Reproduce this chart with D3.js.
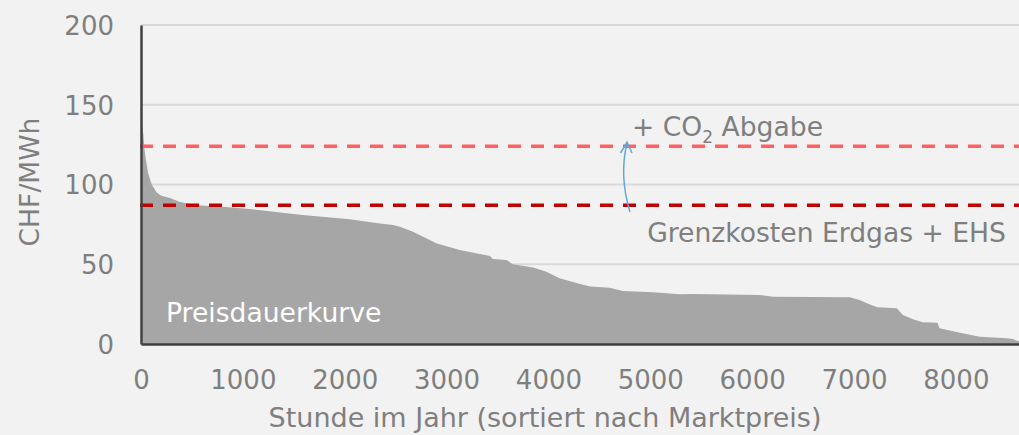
<!DOCTYPE html>
<html>
<head>
<meta charset="utf-8">
<script src="https://cdn.jsdelivr.net/npm/d3@7"></script>
<style>
  html, body { margin: 0; padding: 0; background: #f2f2f2; }
  svg { display: block; }
  text { font-family: "DejaVu Sans", Verdana, sans-serif; }
</style>
</head>
<body>
<svg id="chart" width="1019" height="435"></svg>
<script>
// Price duration curve: hour of the year (sorted by price) and price in CHF/MWh
const hours  = [0, 15, 25, 35, 45, 70, 105, 154, 200, 285, 383, 546, 800, 1070, 1560, 2050, 2345, 2475, 2542, 2670, 2905, 3130, 3425, 3455, 3590, 3650, 3850, 3980, 4110, 4310, 4410, 4600, 4730, 5025, 5093, 5290, 5420, 6075, 6205, 6960, 7055, 7150, 7230, 7420, 7480, 7580, 7675, 7820, 7840, 8040, 8235, 8500, 8560, 8620];
const prices = [137, 136, 130, 122, 117, 107, 100, 95, 93, 91.5, 89, 87, 86, 84.6, 81, 78.2, 75.6, 74.6, 73.5, 70.4, 63, 59, 55.2, 53.3, 52.7, 50, 48, 45.3, 41.2, 37.6, 36, 35.3, 33.2, 32.4, 32.2, 31.2, 31.3, 30.7, 29.7, 29.3, 27.6, 25, 23, 22.4, 18.2, 15.5, 13.6, 13.4, 9.8, 7.1, 4.6, 3.6, 3.2, 1.5];

// Reference cost levels
const gasCost = 87;        // Grenzkosten Erdgas + EHS
const gasCostCO2 = 124;    // + CO2 Abgabe

const xTicks = [0, 1000, 2000, 3000, 4000, 5000, 6000, 7000, 8000];
const yTicks = [0, 50, 100, 150, 200];

const svg = d3.select("#chart");
const plotLeft = 141, plotRight = 1019, plotTop = 25, plotBottom = 344;

const x = d3.scaleLinear().domain([0, 8620]).range([plotLeft, plotRight]);
const y = d3.scaleLinear().domain([0, 200]).range([plotBottom, plotTop]);

const textColor = "#7f7f7f";
const fs = 26;      // tick labels
const fsLabel = 26.6; // titles and annotations

// horizontal gridlines
svg.append("g").selectAll("line")
  .data(yTicks.filter(d => d > 0))
  .join("line")
  .attr("x1", plotLeft).attr("x2", plotRight)
  .attr("y1", d => y(d)).attr("y2", d => y(d))
  .attr("stroke", "#d9d9d9").attr("stroke-width", 2);

// area under the duration curve
const pts = hours.map((h, i) => [h, prices[i]]);
svg.append("path")
  .datum(pts)
  .attr("fill", "#a6a6a6")
  .attr("d", d3.area().x(d => x(d[0])).y0(y(0)).y1(d => y(d[1])));

// dashed cost lines
svg.append("line")
  .attr("x1", plotLeft - 1).attr("x2", plotRight)
  .attr("y1", y(gasCostCO2)).attr("y2", y(gasCostCO2))
  .attr("stroke", "#ff6161").attr("stroke-width", 3.5)
  .attr("stroke-dasharray", "13,10");
svg.append("line")
  .attr("x1", plotLeft - 1).attr("x2", plotRight)
  .attr("y1", y(gasCost)).attr("y2", y(gasCost))
  .attr("stroke", "#c00000").attr("stroke-width", 3.5)
  .attr("stroke-dasharray", "13,10");

// axes
const xAxis = svg.append("g").attr("transform", `translate(0,${plotBottom})`)
  .call(d3.axisBottom(x).tickValues(xTicks).tickSize(0).tickPadding(0).tickFormat(d3.format("d")));
xAxis.select(".domain").attr("stroke", "#404040").attr("stroke-width", 2.5);
xAxis.selectAll("text")
  .attr("fill", textColor).attr("font-size", fs)
  .attr("y", 45).attr("dy", null);

const yAxis = svg.append("g").attr("transform", `translate(${plotLeft},0)`)
  .call(d3.axisLeft(y).tickValues(yTicks).tickSize(0).tickPadding(0).tickFormat(d3.format("d")));
yAxis.select(".domain").attr("stroke", "#404040").attr("stroke-width", 2.5);
yAxis.selectAll("text")
  .attr("fill", textColor).attr("font-size", fs)
  .attr("x", -27).attr("dy", "0.36em");
svg.selectAll(".tick text").attr("font-family", "DejaVu Sans, Verdana, sans-serif");

// axis titles
svg.append("text")
  .attr("transform", "translate(39,182) rotate(-90)")
  .attr("text-anchor", "middle")
  .attr("fill", textColor).attr("font-size", fsLabel)
  .text("CHF/MWh");
svg.append("text")
  .attr("x", 545).attr("y", 427)
  .attr("text-anchor", "middle")
  .attr("fill", textColor).attr("font-size", 27)
  .text("Stunde im Jahr (sortiert nach Marktpreis)");

// series label inside the area
svg.append("text")
  .attr("x", 166).attr("y", 322)
  .attr("fill", "#ffffff").attr("font-size", fsLabel)
  .text("Preisdauerkurve");

// cost line labels
const co2 = svg.append("text")
  .attr("x", 632).attr("y", 136)
  .attr("fill", textColor).attr("font-size", fsLabel);
co2.append("tspan").text("+ CO");
co2.append("tspan").attr("font-size", 17).attr("dy", 7).text("2");
co2.append("tspan").attr("dy", -7).text(" Abgabe");

svg.append("text")
  .attr("x", 1006).attr("y", 242)
  .attr("text-anchor", "end")
  .attr("fill", textColor).attr("font-size", fsLabel)
  .text("Grenzkosten Erdgas + EHS");

// curved arrow from the gas cost line up to the CO2 level
const arrowColor = "#62a8d6";
svg.append("path")
  .attr("d", "M630,212 Q619,176 627,143")
  .attr("fill", "none").attr("stroke", arrowColor).attr("stroke-width", 1.5);
svg.append("path")
  .attr("d", "M620.5,153 L627,142 L632,153")
  .attr("fill", "none").attr("stroke", arrowColor).attr("stroke-width", 1.5);
</script>
</body>
</html>
